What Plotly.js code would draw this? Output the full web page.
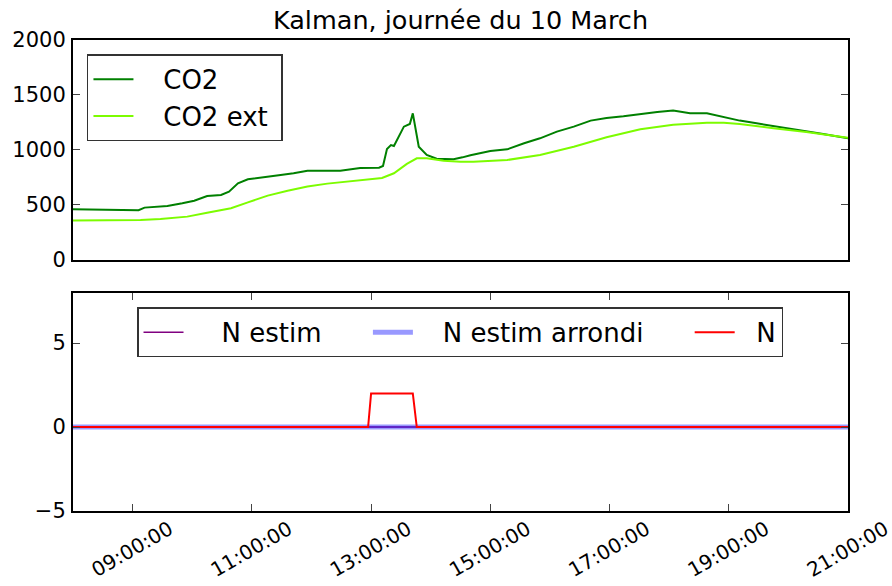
<!DOCTYPE html>
<html>
<head>
<meta charset="utf-8">
<script src="https://cdn.plot.ly/plotly-3.0.1.min.js"></script>
<style>html,body{margin:0;padding:0;background:#fff;}#chart{width:892px;height:586px;}</style>
</head>
<body>
<div id="chart"></div>
<script>
// ---- data ----
var day = '2016-03-10 ';
var co2Times = ['08:00','08:30','09:06','09:12','09:35','09:50','10:02','10:15','10:29','10:37','10:46','10:56','11:09','11:29','11:42','11:56','12:29','12:49','13:08','13:12','13:16','13:20','13:23','13:33','13:39','13:42','13:48','13:56','14:06','14:23','14:32','14:40','15:00','15:17','15:34','15:50','16:07','16:24','16:41','16:57','17:14','17:31','17:48','18:04','18:21','18:38','18:55','19:11','19:28','19:45','20:02','20:18','20:35','21:00'];
var co2Values = [461,455,452,476,491,515,539,582,591,621,697,733,751,773,788,812,812,836,839,855,1009,1045,1036,1212,1236,1333,1030,955,921,915,933,952,991,1006,1061,1106,1167,1212,1267,1291,1306,1327,1345,1358,1333,1333,1297,1267,1242,1218,1194,1173,1145,1106];
var extTimes = ['08:00','09:08','09:28','09:55','10:15','10:39','10:56','11:16','11:36','11:56','12:16','12:36','12:56','13:11','13:23','13:36','13:46','13:56','14:13','14:30','14:43','15:17','15:50','16:24','16:57','17:31','18:04','18:38','18:55','19:11','19:45','20:18','21:00'];
var extValues = [358,364,373,394,430,470,524,585,630,667,694,715,733,745,788,873,924,924,903,894,894,909,955,1030,1115,1188,1230,1248,1248,1236,1197,1164,1112];
var nTimes = ['08:00','12:57','13:00','13:42','13:46','21:00'];
var nValues = [0,0,2,2,0,0];
var estTimes = ['08:00','13:00','13:45','21:00'];
var estValues = [0,0,0,0];
var estRoundValues = [0,0,0,0];
var xTicks = ['09:00:00','11:00:00','13:00:00','15:00:00','17:00:00','19:00:00','21:00:00'];
var seriesNames = ['CO2','CO2 ext','N estim','N estim arrondi','N'];

function full(a){ return a.map(function(t){ return day + t; }); }
function sp(n){ return '\u00a0'.repeat(n); }

var F = 'DejaVu Sans, Verdana, sans-serif';
var traces = [
  {x: full(co2Times), y: co2Values, name: sp(3) + seriesNames[0], mode: 'lines', line: {color: '#008000', width: 2}, xaxis: 'x', yaxis: 'y', legend: 'legend'},
  {x: full(extTimes), y: extValues, name: sp(3) + seriesNames[1] + sp(1), mode: 'lines', line: {color: '#7CFC00', width: 2}, xaxis: 'x', yaxis: 'y', legend: 'legend'},
  {x: full(estTimes), y: estValues, name: sp(4) + seriesNames[2] + sp(5), mode: 'lines', line: {color: '#800080', width: 1.5}, xaxis: 'x2', yaxis: 'y2', legend: 'legend2'},
  {x: full(estTimes), y: estRoundValues, name: sp(3) + seriesNames[3] + sp(5), mode: 'lines', opacity: 0.4, line: {color: '#0000ff', width: 5}, xaxis: 'x2', yaxis: 'y2', legend: 'legend2'},
  {x: full(nTimes), y: nValues, name: sp(2) + seriesNames[4], mode: 'lines', line: {color: '#ff0000', width: 2}, xaxis: 'x2', yaxis: 'y2', legend: 'legend2'}
];

var xr = [day + '08:00', day + '21:00'];
var tickvals = xTicks.map(function(t){ return day + t; });
var common = {showline: true, linecolor: '#000', linewidth: 2, mirror: 'ticks', showgrid: false, zeroline: false,
  ticks: 'inside', ticklen: 7, tickwidth: 1, tickcolor: '#444', tickfont: {family: F, size: 21, color: '#000'}};

var layout = {
  width: 892, height: 586,
  margin: {l: 72.5, r: 44, t: 40, b: 75},
  paper_bgcolor: '#fff', plot_bgcolor: '#fff',
  font: {family: F, color: '#000'},
  title: {text: 'Kalman, journée du 10 March', font: {family: F, size: 25.5, color: '#000'}, x: 0.5, xref: 'paper', y: 1 - 20/586, yref: 'container', yanchor: 'middle'},
  showlegend: true,
  xaxis: Object.assign({}, common, {domain: [0,1], anchor: 'y', type: 'date', range: xr, showticklabels: false, ticks: '', mirror: true, matches: 'x2'}),
  yaxis: Object.assign({}, common, {domain: [0.533, 1], anchor: 'x', range: [0, 2000], tickvals: [0,500,1000,1500,2000], ticklabelstandoff: 1}),
  xaxis2: Object.assign({}, common, {domain: [0,1], anchor: 'y2', type: 'date', range: xr, tickvals: tickvals, ticktext: xTicks, tickangle: -30, ticklabelshift: 37, ticklabelstandoff: -3, ticklabeloverflow: 'allow', automargin: false, tickfont: {family: F, size: 20, color: '#000'}}),
  yaxis2: Object.assign({}, common, {domain: [0, 0.4635], anchor: 'x2', range: [-5, 8], tickvals: [-5,0,5], ticktext: ['\u22125','0','5'], ticklabelstandoff: 1}),
  legend: {x: 0.018, y: 0.9696, xanchor: 'left', yanchor: 'top', bgcolor: '#fff', bordercolor: '#333', borderwidth: 1.5,
    font: {family: F, size: 26, color: '#000'}, orientation: 'v', itemwidth: 40},
  legend2: {x: 0.0826, y: 0.4325, xanchor: 'left', yanchor: 'top', bgcolor: '#fff', bordercolor: '#333', borderwidth: 1.5,
    font: {family: F, size: 26, color: '#000'}, orientation: 'h', itemwidth: 40}
};

Plotly.newPlot('chart', traces, layout, {staticPlot: true, displayModeBar: false});
</script>
</body>
</html>
